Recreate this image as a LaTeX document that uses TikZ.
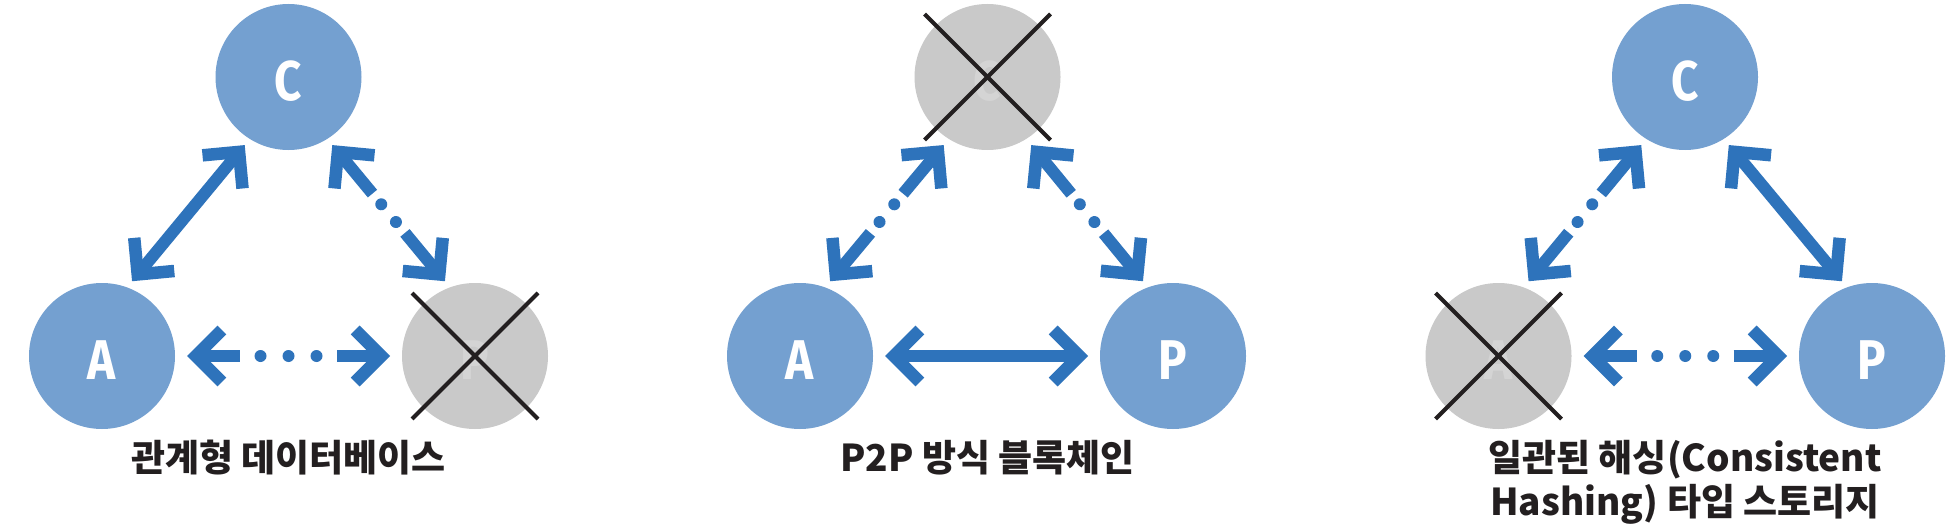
\documentclass[tikz,border=0pt]{standalone}
\usepackage{fontspec}
\newfontfamily\krfont{Noto Sans CJK KR}
\newfontfamily\ltfont{Fira Sans}
\usetikzlibrary{arrows.meta,decorations.markings}

\pgfdeclarearrow{
  name = Chev,
  setup code = {
    \pgfarrowssettipend{0pt}
    \pgfarrowssetlineend{-12pt}
    \pgfarrowssetbackend{-39.3pt}
    \pgfarrowsupperhullpoint{0pt}{0pt}
    \pgfarrowsupperhullpoint{-39.3pt}{30.4pt}
  },
  drawing code = {
    \pgfsetdash{}{0pt}
    \pgfsetlinewidth{12.5pt}
    \pgfsetmiterjoin
    \pgfsetbuttcap
    \pgfpathmoveto{\pgfqpoint{-34.83pt}{25.99pt}}
    \pgfpathlineto{\pgfqpoint{-8.84pt}{0pt}}
    \pgfpathlineto{\pgfqpoint{-34.83pt}{-25.99pt}}
    \pgfusepathqstroke
  }
}

\definecolor{nodeblue}{RGB}{116,160,208}
\definecolor{arrowblue}{RGB}{46,115,187}
\definecolor{deadgray}{RGB}{201,201,201}
\definecolor{deadtext}{RGB}{212,212,212}
\definecolor{inkdark}{RGB}{35,31,32}

\newcommand\peerlabel[1]{\scalebox{0.85}[1]{#1}}

\tikzset{
  peer/.style={circle, minimum size=146pt, inner sep=0pt, outer sep=0pt,
    fill=nodeblue, text=white,
    font={\ltfont\bfseries\fontsize{56pt}{56pt}\selectfont},
    text height=47.6pt, text depth=0pt},
  deadpeer/.style={peer, fill=deadgray, text=deadtext},
  xline/.style={draw=inkdark, line width=4pt},
  link/.style={draw=arrowblue, line width=12pt, arrows=Chev-Chev},
  dlink/.style={link, shorten <=8pt, shorten >=8pt},
  hlink/.style={link, shorten <=12pt, shorten >=12pt},
  ddots/.style={dlink, dash pattern=on 51pt off 51pt on 60pt off 500pt,
    postaction={decorate, decoration={markings, mark=at position 0.5 with
      {\fill[arrowblue] (-11.5pt,0pt) circle (6pt) (11.5pt,0pt) circle (6pt);}}}},
  hdots/.style={hlink, dash pattern=on 41pt off 97pt on 60pt off 500pt,
    postaction={decorate, decoration={markings, mark=at position 0.5 with
      {\fill[arrowblue] (-28pt,0pt) circle (6pt) (0pt,0pt) circle (6pt) (28pt,0pt) circle (6pt);}}}},
  caption/.style={text=inkdark, inner sep=0pt,
    font={\krfont\bfseries\fontsize{37pt}{44pt}\selectfont}}
}

\begin{document}
\begin{tikzpicture}[x=1pt, y=-1pt]
\fill[white] (0,0) rectangle (1956,532);
\useasboundingbox (0,0) rectangle (1956,532);

% ---- diagram 1: relational database
\node[peer] (a1) at (102,356) {\peerlabel{A}};
\node[peer] (c1) at (288.5,77) {\peerlabel{C}};
\node[deadpeer] (p1) at (475,356) {\peerlabel{P}};
\draw[xline] ([shift={(-63,-63)}]p1.center) -- ([shift={(63,63)}]p1.center);
\draw[xline] ([shift={(63,-63)}]p1.center) -- ([shift={(-63,63)}]p1.center);
\draw[dlink] (a1.70) -- (c1.238);
\draw[ddots] (c1.302) -- (p1.110);
\draw[hdots] (a1.east) -- (p1.west);
\node[caption, anchor=base] (t1) at (288.5,471) {관계형 데이터베이스};

% ---- diagram 2: P2P blockchain
\node[peer] (a2) at (800,356) {\peerlabel{A}};
\node[deadpeer] (c2) at (987.5,77) {\peerlabel{C}};
\node[peer] (p2) at (1173,356) {\peerlabel{P}};
\draw[xline] ([shift={(-63,-63)}]c2.center) -- ([shift={(63,63)}]c2.center);
\draw[xline] ([shift={(63,-63)}]c2.center) -- ([shift={(-63,63)}]c2.center);
\draw[ddots] (a2.70) -- (c2.238);
\draw[ddots] (c2.302) -- (p2.110);
\draw[hlink] (a2.east) -- (p2.west);
\node[caption, anchor=base] (t2) at (987.5,471) {P2P 방식 블록체인};

% ---- diagram 3: consistent hashing storage
\node[deadpeer] (a3) at (1498.5,356) {\peerlabel{A}};
\node[peer] (c3) at (1685,77) {\peerlabel{C}};
\node[peer] (p3) at (1872,356) {\peerlabel{P}};
\draw[xline] ([shift={(-63,-63)}]a3.center) -- ([shift={(63,63)}]a3.center);
\draw[xline] ([shift={(63,-63)}]a3.center) -- ([shift={(-63,63)}]a3.center);
\draw[ddots] (a3.70) -- (c3.238);
\draw[dlink] (c3.302) -- (p3.110);
\draw[hdots] (a3.east) -- (p3.west);
\node[caption, align=center, anchor=north] (t3) at (1685,440) {일관된 해싱(Consistent\\Hashing) 타입 스토리지};
\end{tikzpicture}
\end{document}
